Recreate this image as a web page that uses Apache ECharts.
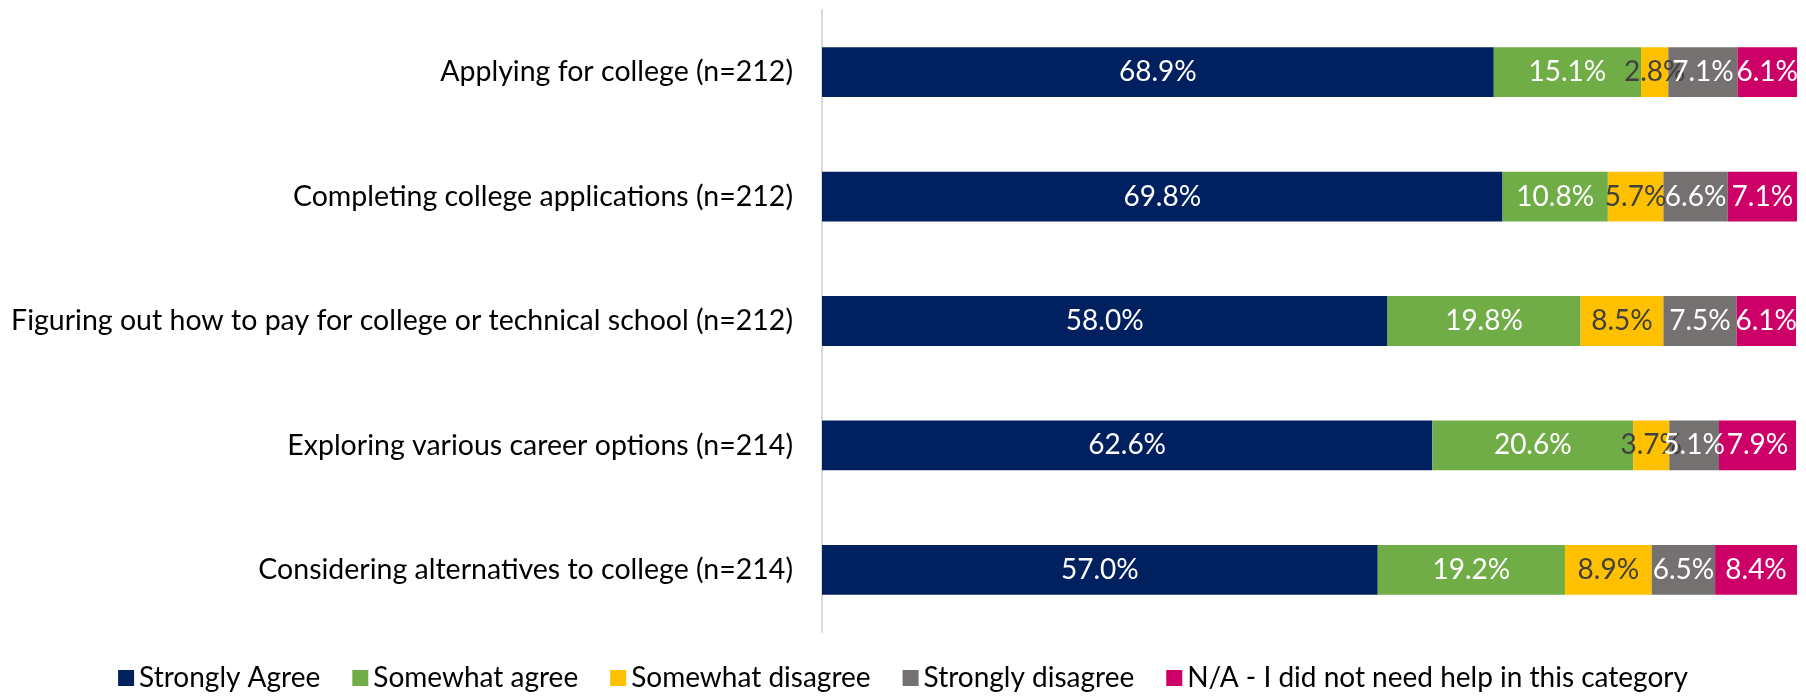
<!DOCTYPE html>
<html>
<head>
<meta charset="utf-8">
<script src="https://cdn.jsdelivr.net/npm/echarts@6/dist/echarts.min.js"></script>
<style>
  html, body { margin: 0; padding: 0; background: #fff; }
  #chart { width: 1806px; height: 697px; }
</style>
</head>
<body>
<div id="chart"></div>
<script>
var categories = [
    'Applying for college (n=212)',
    'Completing college applications (n=212)',
    'Figuring out how to pay for college or technical school (n=212)',
    'Exploring various career options (n=214)',
    'Considering alternatives to college (n=214)'
];
var stronglyAgree = [68.9, 69.8, 58.0, 62.6, 57.0];
var somewhatAgree = [15.1, 10.8, 19.8, 20.6, 19.2];
var somewhatDisagree = [2.8, 5.7, 8.5, 3.7, 8.9];
var stronglyDisagree = [7.1, 6.6, 7.5, 5.1, 6.5];
var notNeeded = [6.1, 7.1, 6.1, 7.9, 8.4];

var FONT = 'Lato';

function makeSeries(name, data, color, labelColor) {
    return {
        name: name,
        type: 'bar',
        stack: 'total',
        data: data,
        barCategoryGap: '60%',
        itemStyle: {color: color},
        label: {
            show: true,
            position: 'inside',
            color: labelColor,
            fontFamily: FONT,
            fontSize: 28,
            formatter: function (p) {
                return p.value.toFixed(1) + '%';
            }
        }
    };
}

var chart = echarts.init(document.getElementById('chart'));
var option = {
    animation: false,
    textStyle: {fontFamily: FONT},
    grid: {left: 822, right: 9, top: 10, bottom: 65, containLabel: false},
    xAxis: {
        type: 'value',
        min: 0,
        max: 100,
        show: false
    },
    yAxis: {
        type: 'category',
        data: categories,
        inverse: true,
        axisLine: {show: true, lineStyle: {color: '#d9d9d9', width: 2}},
        axisTick: {show: false},
        axisLabel: {color: '#000', fontFamily: FONT, fontSize: 28.5, margin: 29}
    },
    legend: {
        bottom: 0,
        left: 'center',
        itemWidth: 16,
        itemHeight: 16,
        itemGap: 32,
        icon: 'rect',
        textStyle: {color: '#000', fontFamily: FONT, fontSize: 28},
        data: ['Strongly Agree', 'Somewhat agree', 'Somewhat disagree', 'Strongly disagree',
            'N/A - I did not need help in this category']
    },
    series: [
        makeSeries('Strongly Agree', stronglyAgree, '#002060', '#fff'),
        makeSeries('Somewhat agree', somewhatAgree, '#70AD47', '#fff'),
        makeSeries('Somewhat disagree', somewhatDisagree, '#FFC000', '#404040'),
        makeSeries('Strongly disagree', stronglyDisagree, '#767171', '#fff'),
        makeSeries('N/A - I did not need help in this category', notNeeded, '#CC0066', '#fff')
    ]
};
chart.setOption(option);
</script>
</body>
</html>
